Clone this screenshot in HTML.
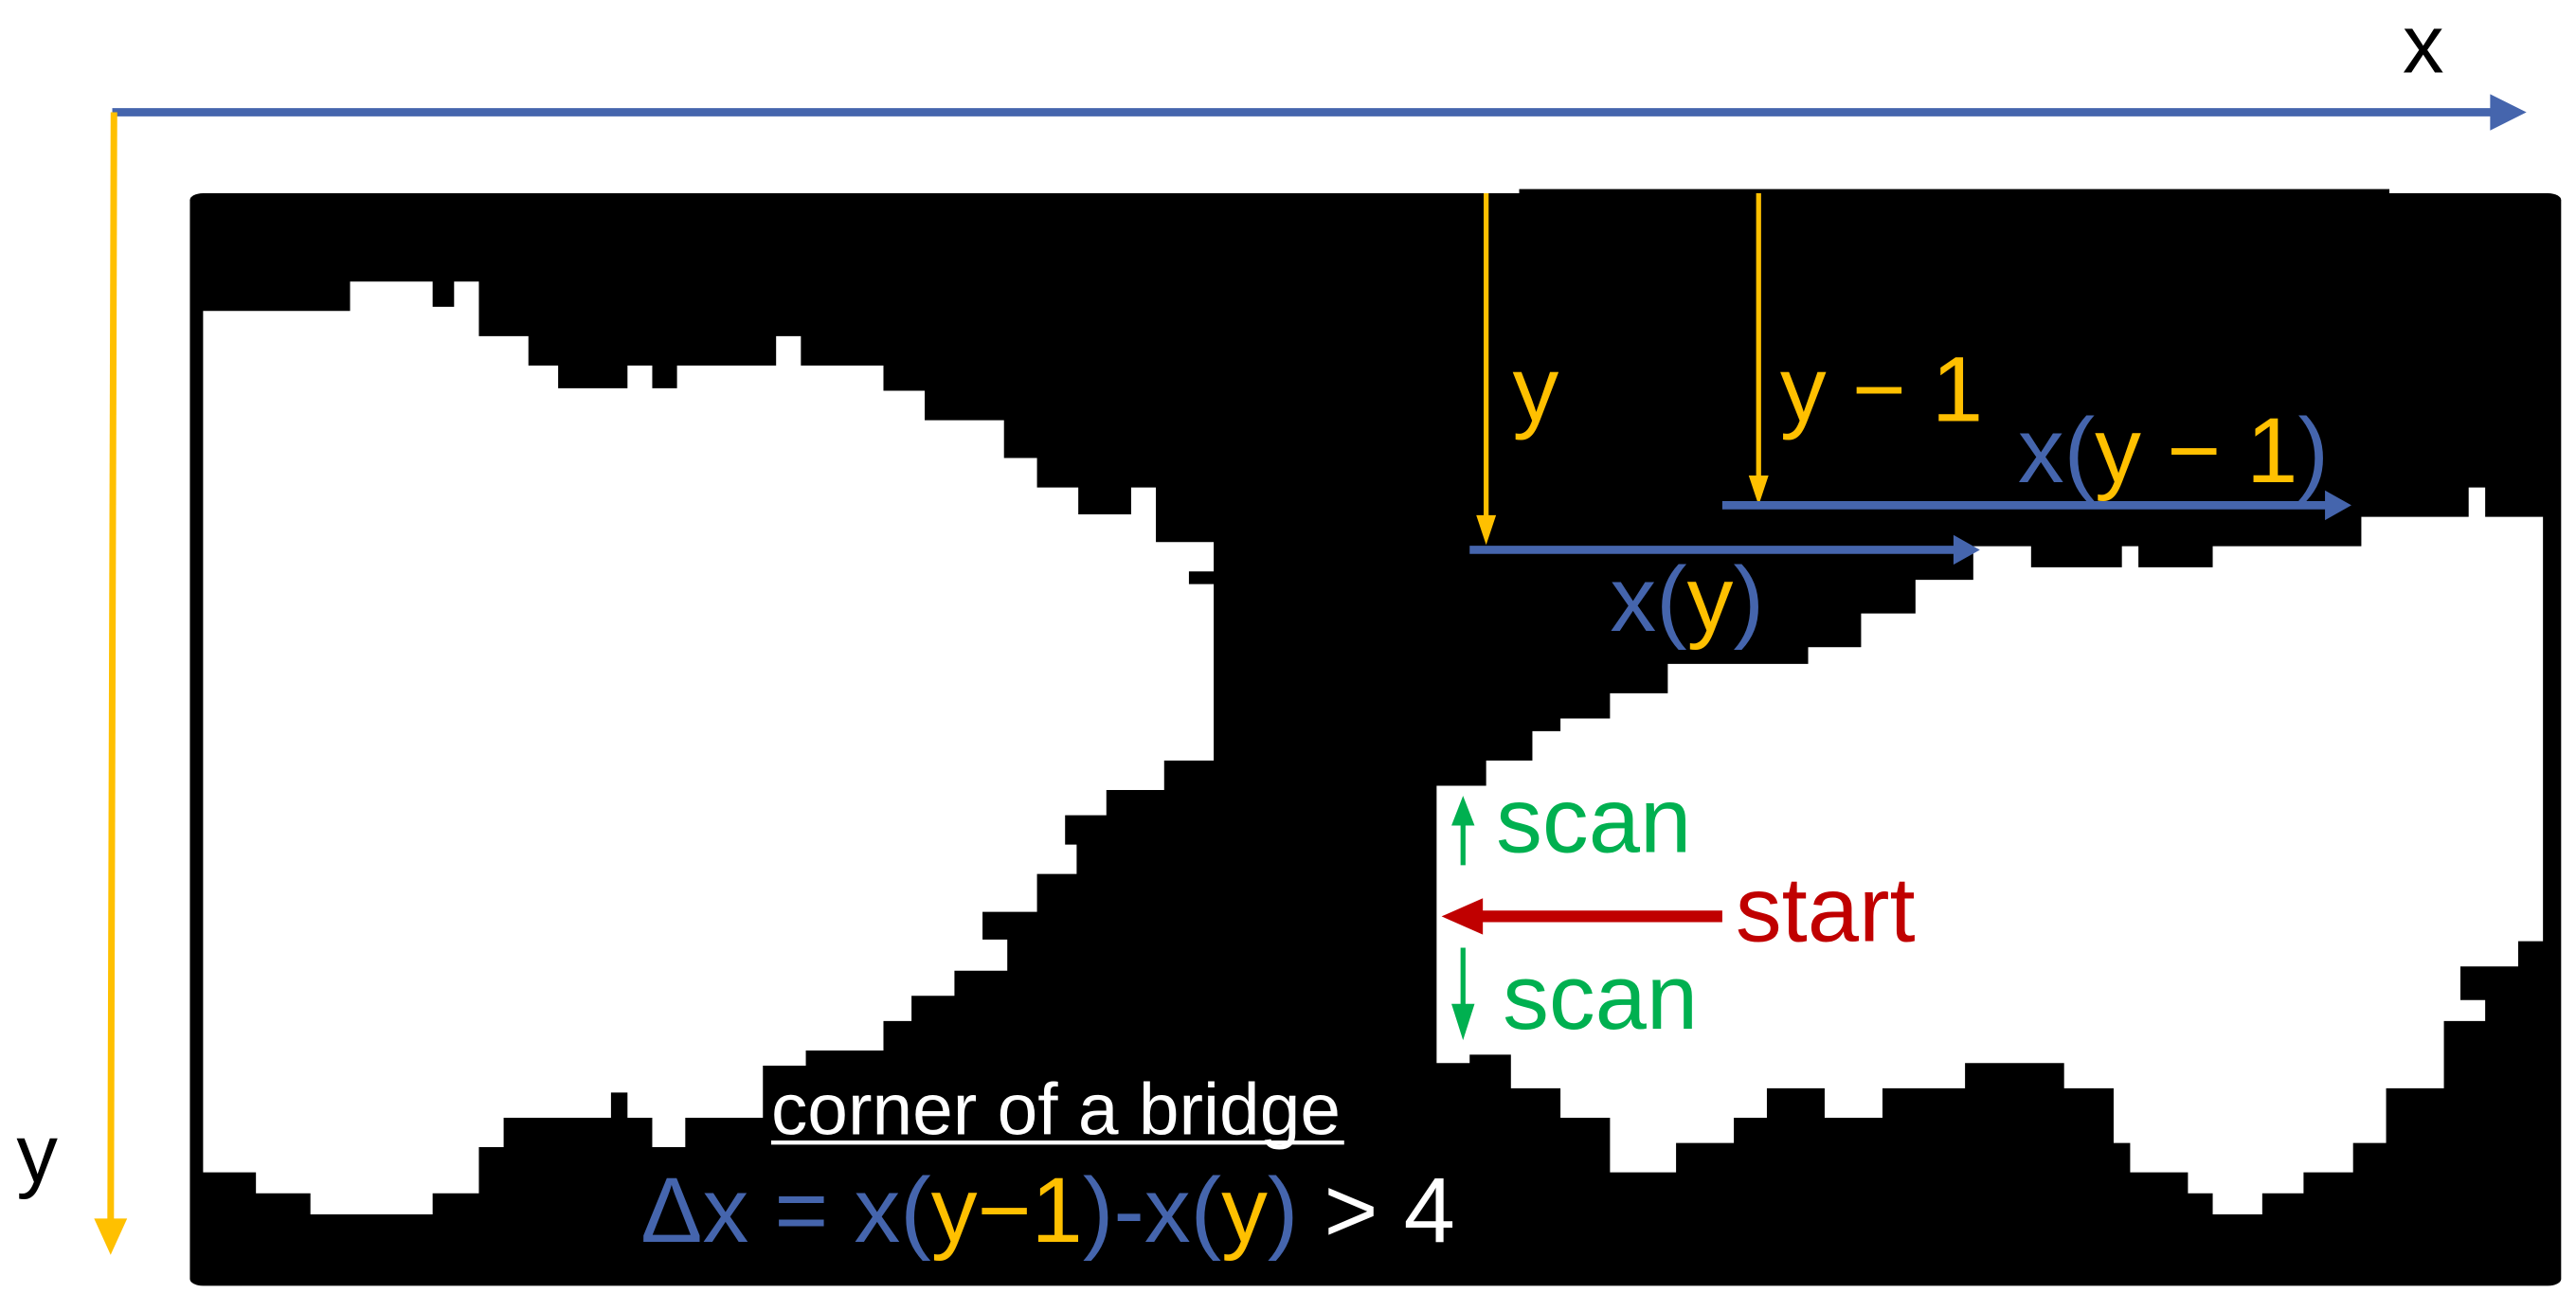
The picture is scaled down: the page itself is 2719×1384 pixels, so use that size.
<!DOCTYPE html>
<html><head><meta charset="utf-8"><style>
html,body{margin:0;padding:0;background:#fff;}
.w{position:relative;width:2719px;height:1384px;overflow:hidden;}
svg{position:absolute;left:0;top:0;}
text{font-family:"Liberation Sans",sans-serif;}
</style></head><body><div class="w">
<svg width="2719" height="1384" viewBox="0 0 1560 1560" preserveAspectRatio="none">
<rect x="115" y="230" width="1436" height="1300" rx="8" fill="#000"/>
<rect x="920" y="225" width="527" height="10" fill="#000"/>
<polygon fill="#fff" points="123,370 212,370 212,335 262,335 262,365 275,365 275,335 290,335 290,400 320,400 320,435 338,435 338,462 380,462 380,435 395,435 395,462 410,462 410,435 470,435 470,400 485,400 485,435 535,435 535,465 560,465 560,500 608,500 608,545 628,545 628,580 653,580 653,612 685,612 685,580 700,580 700,645 735,645 735,680 720,680 720,695 735,695 735,905 705,905 705,940 670,940 670,970 645,970 645,1005 652,1005 652,1040 628,1040 628,1085 595,1085 595,1118 610,1118 610,1155 578,1155 578,1185 552,1185 552,1215 535,1215 535,1250 488,1250 488,1268 462,1268 462,1330 415,1330 415,1365 395,1365 395,1330 380,1330 380,1300 370,1300 370,1330 305,1330 305,1365 290,1365 290,1420 262,1420 262,1445 188,1445 188,1420 155,1420 155,1395 123,1395"/>
<polygon fill="#fff" points="870,935 900,935 900,905 928,905 928,870 945,870 945,855 975,855 975,825 1010,825 1010,790 1095,790 1095,770 1127,770 1127,730 1160,730 1160,690 1195,690 1195,650 1230,650 1230,675 1285,675 1285,650 1295,650 1295,675 1340,675 1340,650 1430,650 1430,615 1495,615 1495,580 1505,580 1505,615 1540,615 1540,1120 1525,1120 1525,1150 1490,1150 1490,1190 1505,1190 1505,1215 1480,1215 1480,1295 1445,1295 1445,1360 1425,1360 1425,1395 1395,1395 1395,1420 1370,1420 1370,1445 1340,1445 1340,1420 1325,1420 1325,1395 1290,1395 1290,1360 1280,1360 1280,1295 1250,1295 1250,1265 1190,1265 1190,1295 1140,1295 1140,1330 1105,1330 1105,1295 1070,1295 1070,1330 1050,1330 1050,1360 1015,1360 1015,1395 975,1395 975,1330 945,1330 945,1295 915,1295 915,1255 890,1255 890,1265 870,1265"/>
<rect x="920" y="600" width="207" height="170" fill="#000"/>
</svg>
<svg width="2719" height="1384" viewBox="0 0 1560 794" preserveAspectRatio="none">
<line x1="68" y1="68" x2="1512" y2="68" stroke="#4565ad" stroke-width="5"/>
<polygon points="1508,57 1530,68 1508,79" fill="#4565ad"/>
<line x1="69" y1="68" x2="67" y2="740" stroke="#ffc000" stroke-width="4"/>
<polygon points="57,738 77,738 67,760" fill="#ffc000"/>
<text x="1455" y="44" font-size="50" fill="#000">x</text>
<text x="10" y="716" font-size="50" fill="#000">y</text>
<line x1="900" y1="117" x2="900" y2="318" stroke="#ffc000" stroke-width="3"/>
<polygon points="894,312 906,312 900,330" fill="#ffc000"/>
<line x1="1065" y1="117" x2="1065" y2="290" stroke="#ffc000" stroke-width="3"/>
<polygon points="1059,288 1071,288 1065,306" fill="#ffc000"/>
<line x1="890" y1="333" x2="1185" y2="333" stroke="#4565ad" stroke-width="5"/>
<polygon points="1183,324 1199,333 1183,342" fill="#4565ad"/>
<line x1="1043" y1="306" x2="1410" y2="306" stroke="#4565ad" stroke-width="5"/>
<polygon points="1408,297 1424,306 1408,315" fill="#4565ad"/>
<text x="916" y="255" font-size="56" fill="#ffc000">y</text>
<text x="1078" y="255" font-size="56" fill="#ffc000">y − 1</text>
<text x="975" y="382" font-size="56"><tspan fill="#4565ad">x(</tspan><tspan fill="#ffc000">y</tspan><tspan fill="#4565ad">)</tspan></text>
<text x="1222" y="292" font-size="56"><tspan fill="#4565ad">x(</tspan><tspan fill="#ffc000">y − 1</tspan><tspan fill="#4565ad">)</tspan></text>
<line x1="886" y1="524" x2="886" y2="498" stroke="#00b050" stroke-width="3"/>
<polygon points="879,500 893,500 886,482" fill="#00b050"/>
<line x1="886" y1="574" x2="886" y2="612" stroke="#00b050" stroke-width="3"/>
<polygon points="879,608 893,608 886,630" fill="#00b050"/>
<text x="906" y="516" font-size="56" fill="#00b050">scan</text>
<text x="910" y="623" font-size="56" fill="#00b050">scan</text>
<line x1="1043" y1="555" x2="893" y2="555" stroke="#c00000" stroke-width="7"/>
<polygon points="898,544 898,566 873,555" fill="#c00000"/>
<text x="1051" y="570" font-size="56" fill="#c00000">start</text>
<text x="467" y="687" font-size="44" fill="#fff">corner of a bridge</text>
<line x1="467" y1="692" x2="814" y2="692" stroke="#fff" stroke-width="2.5"/>
<text x="388" y="752" font-size="56"><tspan fill="#4565ad">Δx = x(</tspan><tspan fill="#ffc000">y−1</tspan><tspan fill="#4565ad">)-x(</tspan><tspan fill="#ffc000">y</tspan><tspan fill="#4565ad">)</tspan><tspan fill="#fff"> &gt; 4</tspan></text>
</svg>
</div></body></html>
